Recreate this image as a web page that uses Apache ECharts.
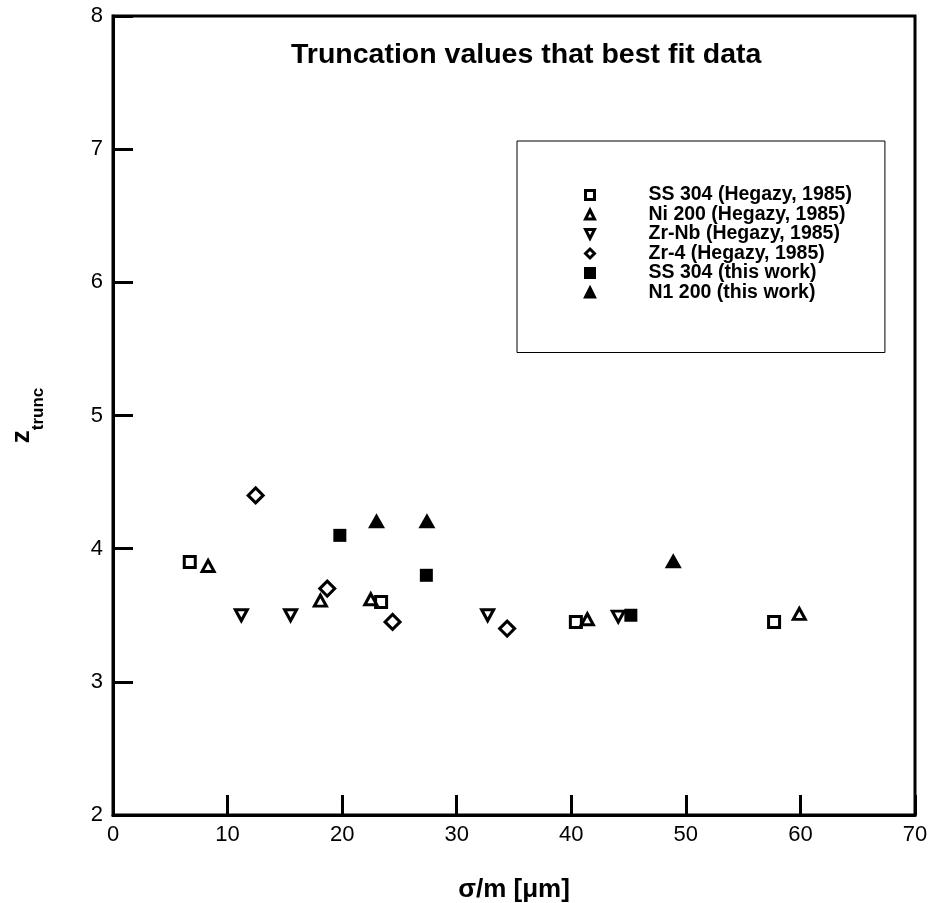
<!DOCTYPE html>
<html>
<head>
<meta charset="utf-8">
<script src="https://cdn.jsdelivr.net/npm/echarts@6/dist/echarts.min.js"></script>
<style>
html,body{margin:0;padding:0;background:#fff;}
#chart{width:931px;height:903px;}
</style>
</head>
<body>
<div id="chart"></div>
<script>
// ---- data ----
const seriesNames = [
  'SS 304 (Hegazy, 1985)',
  'Ni 200 (Hegazy, 1985)',
  'Zr-Nb (Hegazy, 1985)',
  'Zr-4 (Hegazy, 1985)',
  'SS 304 (this work)',
  'N1 200 (this work)'
];
const ss304HegazyX = [6.7, 23.4, 40.4, 57.7];
const ss304HegazyY = [3.9, 3.6, 3.45, 3.45];
const ni200HegazyX = [8.3, 18.1, 22.5, 41.4, 59.9];
const ni200HegazyY = [3.87, 3.61, 3.62, 3.47, 3.51];
const zrNbHegazyX = [11.2, 15.5, 32.7, 44.1];
const zrNbHegazyY = [3.5, 3.5, 3.5, 3.49];
const zr4HegazyX = [12.45, 18.7, 24.4, 34.4];
const zr4HegazyY = [4.4, 3.7, 3.45, 3.4];
const ss304ThisX = [19.8, 27.35, 45.2];
const ss304ThisY = [4.1, 3.8, 3.5];
const n1200ThisX = [23.0, 27.4, 48.9];
const n1200ThisY = [4.21, 4.21, 3.91];

const xMin = 0, xMax = 70, xStep = 10;
const yMin = 2, yMax = 8, yStep = 1;

const titleText = 'Truncation values that best fit data';
const xName = '\u03c3/m [\u03bcm]';

const FONT = '"Liberation Sans", Arial, Helvetica, sans-serif';
const DOWN_TRI = 'path://M0,0 L10,0 L5,10 Z';

function pts(xs, ys) { return xs.map((x, i) => [x, ys[i]]); }

const openStyle = { color: '#ffffff', borderColor: '#000000', borderWidth: 3, opacity: 1 };
const filledStyle = { color: '#000000', borderColor: '#000000', borderWidth: 0, opacity: 1 };

const chart = echarts.init(document.getElementById('chart'), null, { renderer: 'canvas' });
chart.setOption({
  animation: false,
  backgroundColor: '#ffffff',
  title: {
    text: titleText,
    left: 291,
    top: 41,
    padding: 0,
    textStyle: { fontFamily: FONT, fontSize: 28.5, fontWeight: 'bold', color: '#000' }
  },
  legend: {
    orient: 'vertical',
    left: 517,
    top: 141,
    padding: [44, 33, 50, 67],
    borderColor: '#000',
    borderWidth: 1,
    itemWidth: 9,
    itemHeight: 9,
    itemGap: -0.5,
    selectedMode: false,
    itemStyle: { borderWidth: 3, borderColor: '#000', opacity: 1 },
    data: [
      { name: seriesNames[0], icon: 'rect', itemStyle: { color: '#fff' } },
      { name: seriesNames[1], icon: 'triangle', itemStyle: { color: '#fff' } },
      { name: seriesNames[2], icon: DOWN_TRI, itemStyle: { color: '#fff' } },
      { name: seriesNames[3], icon: 'diamond', itemStyle: { color: '#fff' } },
      { name: seriesNames[4], icon: 'rect', itemStyle: { color: '#000' } },
      { name: seriesNames[5], icon: 'triangle', itemStyle: { color: '#000' } }
    ],
    textStyle: { fontFamily: FONT, fontSize: 19.5, fontWeight: 'bold', color: '#000', lineHeight: 16, padding: [0, 0, 0, 49] }
  },
  grid: {
    left: 113, right: 16, top: 16, bottom: 88,
    outerBoundsMode: 'none', containLabel: false,
    show: true, borderColor: '#000', borderWidth: 3, backgroundColor: 'transparent'
  },
  xAxis: {
    type: 'value', min: xMin, max: xMax, interval: xStep,
    name: xName, nameLocation: 'middle', nameGap: 62,
    nameTextStyle: { fontFamily: FONT, fontSize: 26, fontWeight: 'bold', color: '#000' },
    axisLine: { show: true, lineStyle: { color: '#000', width: 3 } },
    axisTick: { show: true, inside: true, length: 20, lineStyle: { color: '#000', width: 3 } },
    axisLabel: { margin: 9, fontFamily: FONT, fontSize: 22, color: '#000' },
    splitLine: { show: false }
  },
  yAxis: {
    type: 'value', min: yMin, max: yMax, interval: yStep,
    name: '{z|z}{s|trunc}', nameLocation: 'middle', nameGap: 66, nameRotate: 90,
    nameTextStyle: {
      rich: {
        z: { fontFamily: FONT, fontSize: 26, fontWeight: 'bold', color: '#000', verticalAlign: 'bottom', padding: [0, 0, 12, 0] },
        s: { fontFamily: FONT, fontSize: 17, fontWeight: 'bold', color: '#000', verticalAlign: 'bottom' }
      }
    },
    axisLine: { show: true, lineStyle: { color: '#000', width: 3 } },
    axisTick: { show: true, inside: true, length: 20, lineStyle: { color: '#000', width: 3 } },
    axisLabel: { margin: 10, fontFamily: FONT, fontSize: 22, color: '#000' },
    splitLine: { show: false }
  },
  series: [
    { name: seriesNames[0], type: 'scatter', symbol: 'rect', symbolSize: 11, itemStyle: openStyle, data: pts(ss304HegazyX, ss304HegazyY) },
    { name: seriesNames[1], type: 'scatter', symbol: 'triangle', symbolSize: [12, 11], itemStyle: openStyle, data: pts(ni200HegazyX, ni200HegazyY) },
    { name: seriesNames[2], type: 'scatter', symbol: DOWN_TRI, symbolKeepAspect: false, symbolSize: [12, 11], itemStyle: openStyle, data: pts(zrNbHegazyX, zrNbHegazyY) },
    { name: seriesNames[3], type: 'scatter', symbol: 'diamond', symbolSize: 15, itemStyle: openStyle, data: pts(zr4HegazyX, zr4HegazyY) },
    { name: seriesNames[4], type: 'scatter', symbol: 'rect', symbolSize: 13, itemStyle: filledStyle, data: pts(ss304ThisX, ss304ThisY) },
    { name: seriesNames[5], type: 'scatter', symbol: 'triangle', symbolSize: [17, 15], itemStyle: filledStyle, data: pts(n1200ThisX, n1200ThisY) }
  ]
});
</script>
</body>
</html>
